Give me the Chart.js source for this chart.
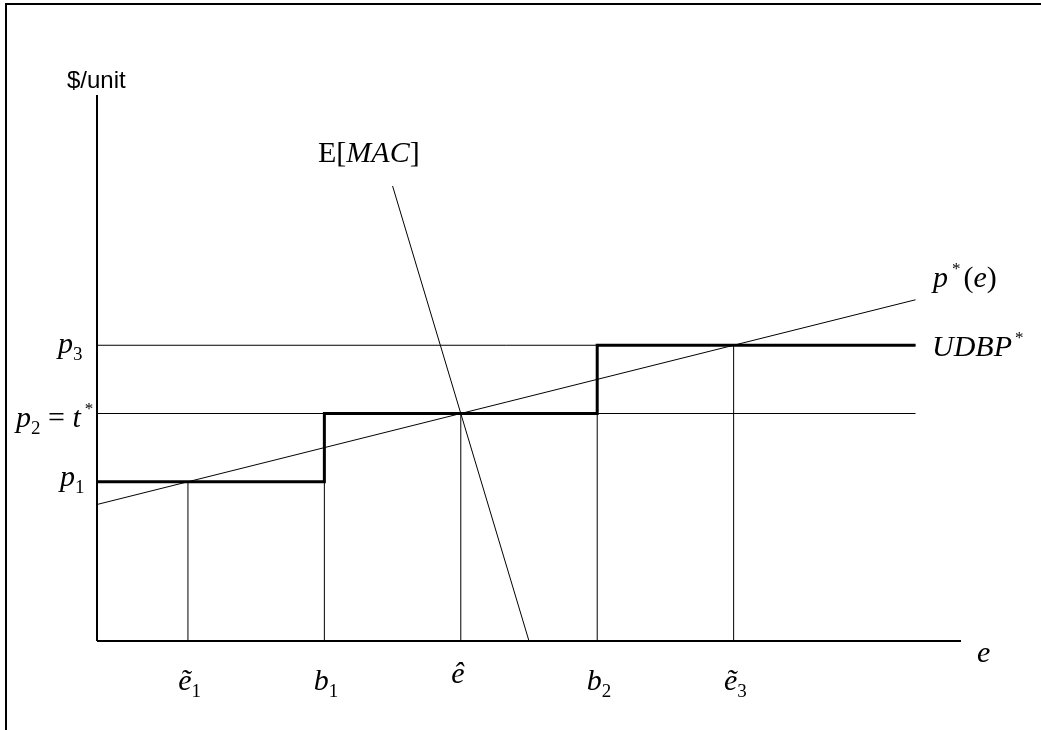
<!DOCTYPE html>
<html><head><meta charset="utf-8">
<script src="https://cdn.jsdelivr.net/npm/chart.js@4.4.1/dist/chart.umd.min.js"></script>
<style>html,body{margin:0;padding:0;background:#fff;overflow:hidden}canvas{display:block}</style>
</head><body>
<canvas id="c" width="1041" height="730"></canvas>
<script>
// ---- data (in chart units) ----
const xMax = 19;
const yMax = 24;
const tickPositions = [2, 5, 8, 11, 14];          // ẽ1, b1, ê, b2, ẽ3
const tickBase = ['ẽ', 'b', 'ê', 'b', 'ẽ'];
const tickSub = ['1', '1', '', '2', '3'];
const dropHeights = [7, 7, 10, 10, 13];           // height of each vertical guide
const priceLevels = [7, 10, 13];                  // p1, p2 = t*, p3
const stepBreaks = [0, 5, 11, 18];                // UDBP* breakpoints
const guideEnd = 18;                              // end of horizontal guides p2, p3
const pStarX = [0, 18];
const pStarY = [6, 15];
const macX = [6.5, 9.5];
const macY = [20, 0];

// ---- datasets ----
const black = '#000';
function seg(pts, w) {
  return { data: pts, showLine: true, borderColor: black, borderWidth: w,
           pointRadius: 0, pointHoverRadius: 0, fill: false, clip: false, tension: 0 };
}
const datasets = [];
// UDBP* step function: horizontal at each price level, then a vertical jump at the next breakpoint
const stepPts = stepBreaks.map((x, i) => ({ x, y: priceLevels[Math.min(i, priceLevels.length - 1)] }));
datasets.push(Object.assign(seg(stepPts, 3), { stepped: 'before', borderCapStyle: 'butt', borderJoinStyle: 'miter' }));
// axes
datasets.push(seg([{ x: 0, y: 0 }, { x: xMax, y: 0 }], 2));
datasets.push(seg([{ x: 0, y: 0 }, { x: 0, y: yMax }], 2));
// horizontal guides p2, p3
datasets.push(seg([{ x: 0, y: priceLevels[1] }, { x: guideEnd, y: priceLevels[1] }], 1));
datasets.push(seg([{ x: 0, y: priceLevels[2] }, { x: guideEnd, y: priceLevels[2] }], 1));
// vertical guides
tickPositions.forEach((x, i) => datasets.push(seg([{ x, y: 0 }, { x, y: dropHeights[i] }], 1)));
// p*(e)
datasets.push(seg(pStarX.map((x, i) => ({ x, y: pStarY[i] })), 1));
// E[MAC]
datasets.push(seg(macX.map((x, i) => ({ x, y: macY[i] })), 1));

// ---- text helpers ----
const SERIF = '"Liberation Serif", "Times New Roman", serif';
const MAIN = 30, SUB = 19, SUP = 17;
function fontFor(r) {
  const size = r.s === 'sub' ? SUB : r.s === 'sup' ? SUP : MAIN;
  return (r.it ? 'italic ' : '') + size + 'px ' + SERIF;
}
function drawRuns(ctx, runs, x, y) {
  let cx = x;
  runs.forEach(r => {
    ctx.font = fontFor(r);
    const dy = r.s === 'sub' ? 7 : r.s === 'sup' ? -13 : 0;
    ctx.fillText(r.t, cx + (r.dx || 0), y + dy);
    cx += ctx.measureText(r.t).width + (r.dx || 0);
  });
}

const textPlugin = {
  id: 'texts',
  afterDatasetsDraw(chart) {
    const ctx = chart.ctx;
    const xs = chart.scales.x, ys = chart.scales.y;
    ctx.save();
    ctx.fillStyle = black;
    ctx.textBaseline = 'alphabetic';
    ctx.textAlign = 'left';

    // frame
    ctx.strokeStyle = black;
    ctx.lineWidth = 2;
    ctx.beginPath();
    ctx.moveTo(6, 730); ctx.lineTo(6, 4); ctx.lineTo(1041, 4);
    ctx.stroke();

    // y-axis title
    ctx.font = '24px "Liberation Sans", Arial, sans-serif';
    ctx.fillText('$/unit', 67, 88);

    // x tick labels
    tickPositions.forEach((v, i) => {
      const px = xs.getPixelForValue(v);
      ctx.font = fontFor({ it: true });
      const bw = ctx.measureText(tickBase[i]).width;
      const runs = [{ t: tickBase[i], it: true }];
      if (tickSub[i]) runs.push({ t: tickSub[i], s: 'sub' });
      const base = tickSub[i] ? 690 : 683;
      drawRuns(ctx, runs, px - 3 - bw / 2, base);
    });
    // x-axis title
    drawRuns(ctx, [{ t: 'e', it: true }], xs.getPixelForValue(xMax) + 16, 662);

    // y labels
    drawRuns(ctx, [{ t: 'p', it: true }, { t: '3', s: 'sub' }], 58, ys.getPixelForValue(priceLevels[2]) + 8);
    drawRuns(ctx, [{ t: 'p', it: true }, { t: '2', s: 'sub' }, { t: ' = ' },
                   { t: 't', it: true }, { t: '*', s: 'sup', dx: 4 }], 16, ys.getPixelForValue(priceLevels[1]) + 13);
    drawRuns(ctx, [{ t: 'p', it: true }, { t: '1', s: 'sub' }], 60, ys.getPixelForValue(priceLevels[0]) + 4);

    // curve labels
    drawRuns(ctx, [{ t: 'E[' }, { t: 'MAC', it: true }, { t: ']' }], 318, 162);
    drawRuns(ctx, [{ t: 'p', it: true }, { t: '*', s: 'sup', dx: 4 }, { t: '(', dx: 3 }, { t: 'e', it: true }, { t: ')' }], 933, 287);
    drawRuns(ctx, [{ t: 'UDBP', it: true }, { t: '*', s: 'sup', dx: 3 }], 932, 356);
    ctx.restore();
  }
};

new Chart(document.getElementById('c'), {
  type: 'scatter',
  data: { datasets },
  options: {
    responsive: false,
    animation: false,
    events: [],
    layout: { padding: { left: 97, top: 95, right: 80, bottom: 89 } },
    plugins: { legend: { display: false }, tooltip: { enabled: false } },
    scales: {
      x: { type: 'linear', min: 0, max: xMax, display: false },
      y: { type: 'linear', min: 0, max: yMax, display: false }
    }
  },
  plugins: [textPlugin]
});
</script>
</body></html>
